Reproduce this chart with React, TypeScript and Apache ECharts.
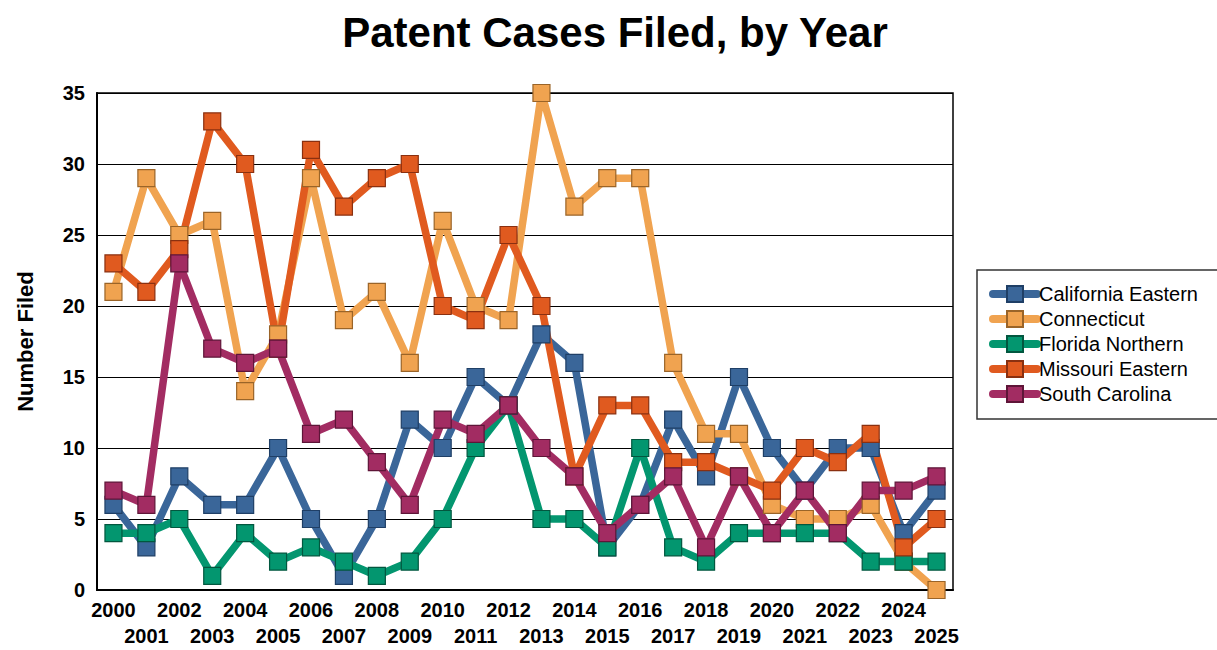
import React, { useEffect, useRef } from "react";
import * as echarts from "echarts";

const years = [
  "2000","2001","2002","2003","2004","2005","2006","2007","2008","2009",
  "2010","2011","2012","2013","2014","2015","2016","2017","2018","2019",
  "2020","2021","2022","2023","2024","2025",
];
const californiaEastern = [6,3,8,6,6,10,5,1,5,12,10,15,13,18,16,3,6,12,8,15,10,7,10,10,4,7];
const connecticut = [21,29,25,26,14,18,29,19,21,16,26,20,19,35,27,29,29,16,11,11,6,5,5,6,2,0];
const floridaNorthern = [4,4,5,1,4,2,3,2,1,2,5,10,13,5,5,3,10,3,2,4,4,4,4,2,2,2];
const missouriEastern = [23,21,24,33,30,17,31,27,29,30,20,19,25,20,8,13,13,9,9,8,7,10,9,11,3,5];
const southCarolina = [7,6,23,17,16,17,11,12,9,6,12,11,13,10,8,4,6,8,3,8,4,7,4,7,7,8];
const yTicks = { min: 0, max: 35, interval: 5 };

const seriesDefs = [
  { name: "California Eastern", data: californiaEastern, color: "#3A6699", border: "#1F3F66" },
  { name: "Connecticut", data: connecticut, color: "#F0A350", border: "#9A6428" },
  { name: "Florida Northern", data: floridaNorthern, color: "#03966F", border: "#02573F" },
  { name: "Missouri Eastern", data: missouriEastern, color: "#E05A1F", border: "#8A3010" },
  { name: "South Carolina", data: southCarolina, color: "#A22C62", border: "#5E1538" },
];

export default function App() {
  const ref = useRef<HTMLDivElement>(null);
  useEffect(() => {
    if (!ref.current) return;
    const chart = echarts.init(ref.current, undefined, { renderer: "svg" });
    const font = "Arial, 'Liberation Sans', sans-serif";
    chart.setOption({
      animation: false,
      backgroundColor: "#fff",
      title: {
        text: "Patent Cases Filed, by Year",
        left: 610,
        top: 6,
        textAlign: "center",
        textStyle: { fontFamily: font, fontSize: 42, fontWeight: "bold", color: "#000" },
      },
      grid: {
        left: 97,
        right: 264,
        top: 93,
        bottom: 60,
        show: true,
        borderColor: "#000",
        borderWidth: 1.5,
        backgroundColor: "transparent",
      },
      graphic: [
        {
          type: "rect",
          shape: { x: 977, y: 270, width: 245, height: 149 },
          style: { fill: "#fff", stroke: "#333", lineWidth: 1.5 },
          z: 0,
        },
      ],
      legend: {
        orient: "vertical",
        left: 984,
        top: 279,
        itemWidth: 44,
        itemHeight: 20,
        itemGap: 5,
        lineStyle: { width: 8, cap: "round" },
        textStyle: { fontFamily: font, fontSize: 20, color: "#000", padding: [0, 0, 0, -3] },
        data: seriesDefs.map((s) => s.name),
        z: 5,
      },
      xAxis: {
        type: "category",
        data: years,
        boundaryGap: true,
        axisLine: { lineStyle: { color: "#000", width: 2 } },
        axisTick: { show: false },
        axisLabel: {
          interval: 0,
          fontFamily: font,
          fontSize: 20,
          fontWeight: "bold",
          color: "#000",
          lineHeight: 26,
          margin: 7,
          formatter: (v: string, i: number) => (i % 2 === 1 ? "\n" + v : v),
        },
        splitLine: { show: false },
      },
      yAxis: {
        type: "value",
        min: yTicks.min,
        max: yTicks.max,
        interval: yTicks.interval,
        name: "Number Filed",
        nameLocation: "middle",
        nameGap: 61,
        nameRotate: 90,
        nameTextStyle: { fontFamily: font, fontSize: 22, fontWeight: "bold", color: "#000" },
        axisLine: { show: true, lineStyle: { color: "#000", width: 2 } },
        axisTick: { show: false },
        axisLabel: {
          fontFamily: font,
          fontSize: 20,
          fontWeight: "bold",
          color: "#000",
          margin: 12,
        },
        splitLine: { show: true, lineStyle: { color: "#000", width: 1.2 } },
      },
      series: seriesDefs.map((s) => ({
        name: s.name,
        type: "line",
        data: s.data,
        symbol: "rect",
        symbolSize: 17,
        showAllSymbol: true,
        lineStyle: { color: s.color, width: 7.5, cap: "round" },
        itemStyle: { color: s.color, borderColor: s.border, borderWidth: 1.2 },
        emphasis: { disabled: true },
      })),
    });
    return () => chart.dispose();
  }, []);
  return (
    <div
      ref={ref}
      style={{ position: "fixed", left: 0, top: 0, width: 1217, height: 650 }}
    />
  );
}
